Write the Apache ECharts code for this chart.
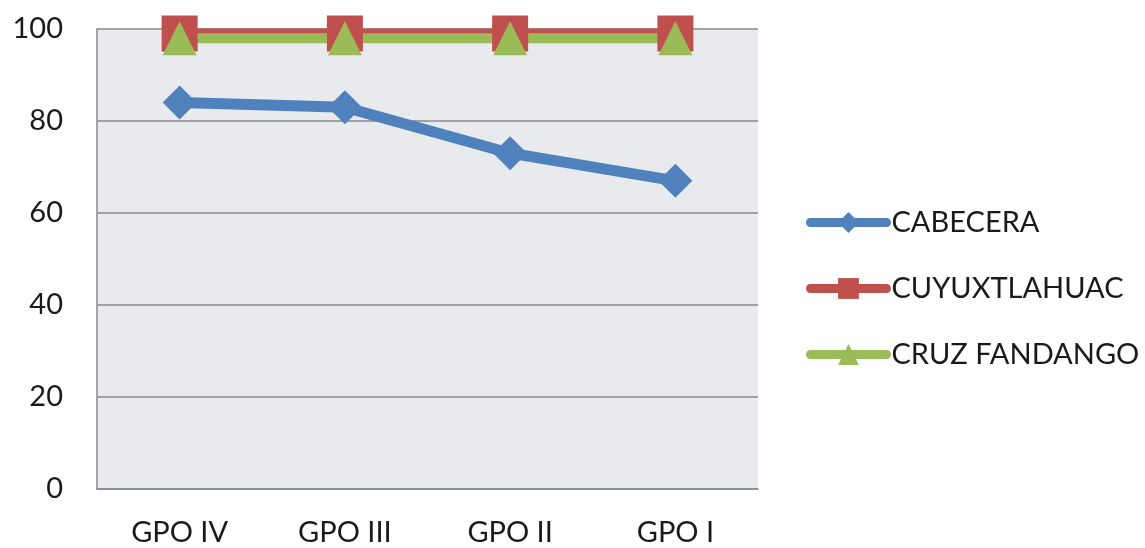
<!DOCTYPE html>
<html>
<head>
<meta charset="utf-8">
<script src="https://cdn.jsdelivr.net/npm/echarts@6/dist/echarts.min.js"></script>
<style>
  html, body { margin: 0; padding: 0; background: #fff; }
  #chart { width: 1145px; height: 548px; }
</style>
</head>
<body>
<div id="chart"></div>
<script>
// Groups along the horizontal axis
const categories = ['GPO IV', 'GPO III', 'GPO II', 'GPO I'];
// Percentage per locality
const cabecera = [84, 83, 73, 67];
const cuyuxtlahuac = [99, 99, 99, 99];
const cruzFandango = [98, 98, 98, 98];
const yTicks = [0, 20, 40, 60, 80, 100];

const FONT = 'Lato, "Open Sans", sans-serif';
const chart = echarts.init(document.getElementById('chart'));

function lineSeries(name, data, color, symbol, size, width) {
  return {
    name: name,
    type: 'line',
    data: data,
    symbol: symbol,
    symbolSize: size,
    showAllSymbol: true,
    lineStyle: { color: color, width: width, cap: 'round', join: 'round' },
    itemStyle: { color: color },
    emphasis: { disabled: true },
    animation: false
  };
}

chart.setOption({
  animation: false,
  grid: {
    left: 97, top: 29, right: 387, bottom: 59,
    show: true, backgroundColor: '#e9eaed', borderWidth: 0
  },
  legend: {
    orient: 'vertical',
    left: 806,
    top: 208,
    padding: 0,
    itemWidth: 76,
    itemHeight: 26,
    itemGap: 37,
    lineStyle: { width: 9, cap: 'round' },
    textStyle: { fontFamily: FONT, fontSize: 29, color: '#1a1a1a' },
    data: ['CABECERA', 'CUYUXTLAHUAC', 'CRUZ FANDANGO']
  },
  xAxis: {
    type: 'category',
    data: categories,
    boundaryGap: true,
    axisLine: { show: true, lineStyle: { color: '#8a8a8a', width: 1.5 } },
    axisTick: { show: false },
    axisLabel: { fontFamily: FONT, fontSize: 29, color: '#1a1a1a', margin: 29 }
  },
  yAxis: {
    type: 'value',
    min: yTicks[0],
    max: yTicks[yTicks.length - 1],
    interval: 20,
    axisLine: { show: true, lineStyle: { color: '#8a8a8a', width: 1.5 } },
    axisTick: { show: false },
    splitLine: { show: true, lineStyle: { color: '#8a8a8a', width: 1.5 } },
    axisLabel: { fontFamily: FONT, fontSize: 29, color: '#1a1a1a', margin: 34 }
  },
  series: [
    lineSeries('CABECERA', cabecera, '#4f81bd', 'diamond', 34, 11),
    lineSeries('CUYUXTLAHUAC', cuyuxtlahuac, '#c0504d', 'rect', 36, 10),
    lineSeries('CRUZ FANDANGO', cruzFandango, '#9bbb59', 'triangle', 34, 10)
  ]
});
</script>
</body>
</html>
